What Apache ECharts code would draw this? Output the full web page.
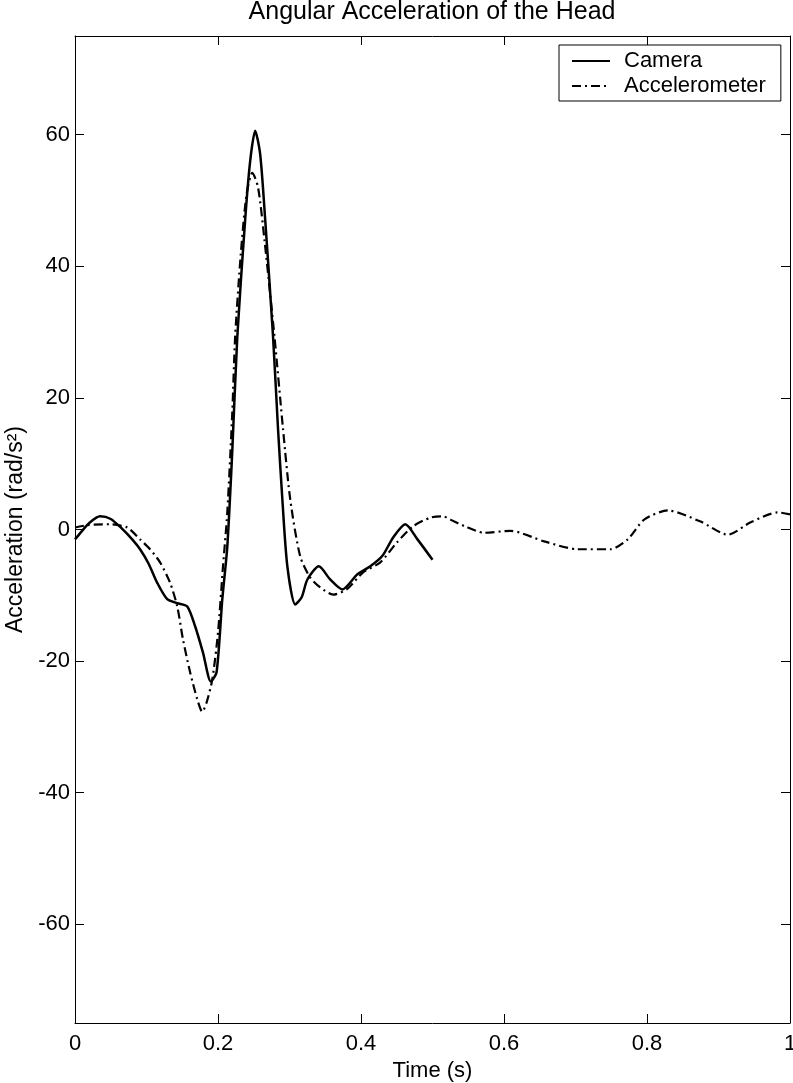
<!DOCTYPE html>
<html>
<head>
<meta charset="utf-8">
<script src="https://cdn.jsdelivr.net/npm/echarts@6/dist/echarts.min.js"></script>
<style>html,body{margin:0;padding:0;background:#fff}#c{width:793px;height:1083px}</style>
</head>
<body>
<div id="c"></div>
<script>
const titleText = 'Angular Acceleration of the Head';
const xName = 'Time (s)';
const yName = 'Acceleration (rad/s\u00B2)';
const seriesNames = ['Camera', 'Accelerometer'];
const yTicks = [-60, -40, -20, 0, 20, 40, 60];

const camera = [
  [0,-1.5],[0.01,-0.2],[0.02,1.0],[0.035,2.0],[0.05,1.6],[0.065,0.2],[0.08,-1.5],[0.091,-3.0],
  [0.103,-5.2],[0.115,-8.1],[0.129,-10.6],[0.143,-11.2],[0.157,-11.7],[0.168,-14.7],[0.179,-18.7],
  [0.19,-23.1],[0.198,-21.7],[0.206,-10.6],[0.213,-2.6],[0.22,12],[0.227,29.3],[0.238,47.1],
  [0.245,56],[0.252,60.6],[0.259,57],[0.266,47.1],[0.277,29.3],[0.284,15.2],[0.29,4.6],
  [0.297,-5.6],[0.308,-11.4],[0.317,-10.3],[0.325,-7.6],[0.341,-5.6],[0.357,-7.6],[0.374,-9.1],
  [0.395,-6.8],[0.413,-5.6],[0.43,-4.0],[0.445,-1.2],[0.462,0.8],[0.479,-1.5],[0.5,-4.6]
];

const accelerometer = [
  [0,0.3],[0.02,0.7],[0.05,0.8],[0.073,0.3],[0.091,-1.5],[0.105,-3],[0.119,-5],[0.133,-8.1],
  [0.143,-11.7],[0.151,-16.7],[0.161,-21.7],[0.171,-25.8],[0.178,-27.7],[0.184,-26.3],[0.192,-22.8],
  [0.2,-15.7],[0.207,-5.6],[0.213,2.6],[0.22,17.8],[0.224,29.3],[0.232,42],[0.24,51],[0.248,54.2],
  [0.256,52],[0.265,44],[0.279,29.3],[0.291,15.2],[0.301,4.6],[0.315,-4.1],[0.329,-7.3],[0.343,-8.8],
  [0.361,-9.9],[0.38,-9.1],[0.403,-6.5],[0.427,-5.0],[0.45,-2.0],[0.473,0.5],[0.497,1.8],[0.515,2.0],
  [0.525,1.5],[0.545,0.5],[0.572,-0.5],[0.609,-0.2],[0.656,-1.8],[0.703,-3.0],[0.749,-3.0],[0.773,-1.5],
  [0.796,1.5],[0.829,2.9],[0.875,1.2],[0.913,-0.8],[0.945,1.1],[0.983,2.6],[1.0,2.3]
];

const FONT = "'Liberation Sans', Arial, sans-serif";
const axisLine = {show: true, onZero: false, lineStyle: {color: '#000', width: 1}};
const tickIn = {show: true, inside: true, length: 9, lineStyle: {color: '#000', width: 1}};

const chart = echarts.init(document.getElementById('c'), null, {renderer: 'canvas'});
chart.setOption({
  animation: false,
  backgroundColor: '#fff',
  title: {
    text: titleText, left: 432, top: 0, textAlign: 'center', padding: 0,
    textStyle: {fontFamily: FONT, fontSize: 25, fontWeight: 'normal', color: '#000'}
  },
  legend: {
    data: seriesNames,
    orient: 'vertical', left: 559, top: 45,
    padding: [5, 15, 4, 12], itemGap: 3, itemWidth: 38, itemHeight: 14,
    borderColor: '#000', borderWidth: 1, backgroundColor: '#fff',
    itemStyle: {color: 'rgba(0,0,0,0)', borderWidth: 0, opacity: 0},
    textStyle: {fontFamily: FONT, fontSize: 22, color: '#000', padding: [0, 0, 0, 9]}
  },
  grid: {left: 75, right: 3, top: 36, bottom: 60, containLabel: false, outerBoundsMode: 'none'},
  xAxis: [{
    type: 'value', min: 0, max: 1, interval: 0.2, position: 'bottom',
    name: xName, nameLocation: 'middle', nameGap: 34,
    nameTextStyle: {fontFamily: FONT, fontSize: 22, color: '#000'},
    axisLine: axisLine, axisTick: tickIn, splitLine: {show: false},
    axisLabel: {fontFamily: FONT, fontSize: 22, color: '#000', margin: 10}
  }, {
    type: 'value', min: 0, max: 1, interval: 0.2, position: 'top',
    axisLine: axisLine, axisTick: tickIn, splitLine: {show: false}, axisLabel: {show: false}
  }],
  yAxis: [{
    type: 'value', min: -75, max: 75, position: 'left',
    name: yName, nameLocation: 'middle', nameGap: 47, nameRotate: 90,
    nameTextStyle: {fontFamily: FONT, fontSize: 23, color: '#000'},
    axisLine: axisLine,
    axisTick: Object.assign({customValues: yTicks}, tickIn),
    splitLine: {show: false},
    axisLabel: {customValues: yTicks, fontFamily: FONT, fontSize: 22, color: '#000', margin: 5}
  }, {
    type: 'value', min: -75, max: 75, position: 'right',
    axisLine: axisLine,
    axisTick: Object.assign({customValues: yTicks}, tickIn),
    splitLine: {show: false}, axisLabel: {show: false}
  }],
  series: [{
    name: seriesNames[0], type: 'line', data: camera, showSymbol: false, symbol: 'none',
    smooth: 0.25, lineStyle: {color: '#000', width: 2.5, type: 'solid'}, itemStyle: {color: '#000'}
  }, {
    name: seriesNames[1], type: 'line', data: accelerometer, showSymbol: false, symbol: 'none',
    smooth: 0.25, lineStyle: {color: '#000', width: 2.2, type: [9, 4, 2, 4]}, itemStyle: {color: '#000'}
  }]
});
</script>
</body>
</html>
